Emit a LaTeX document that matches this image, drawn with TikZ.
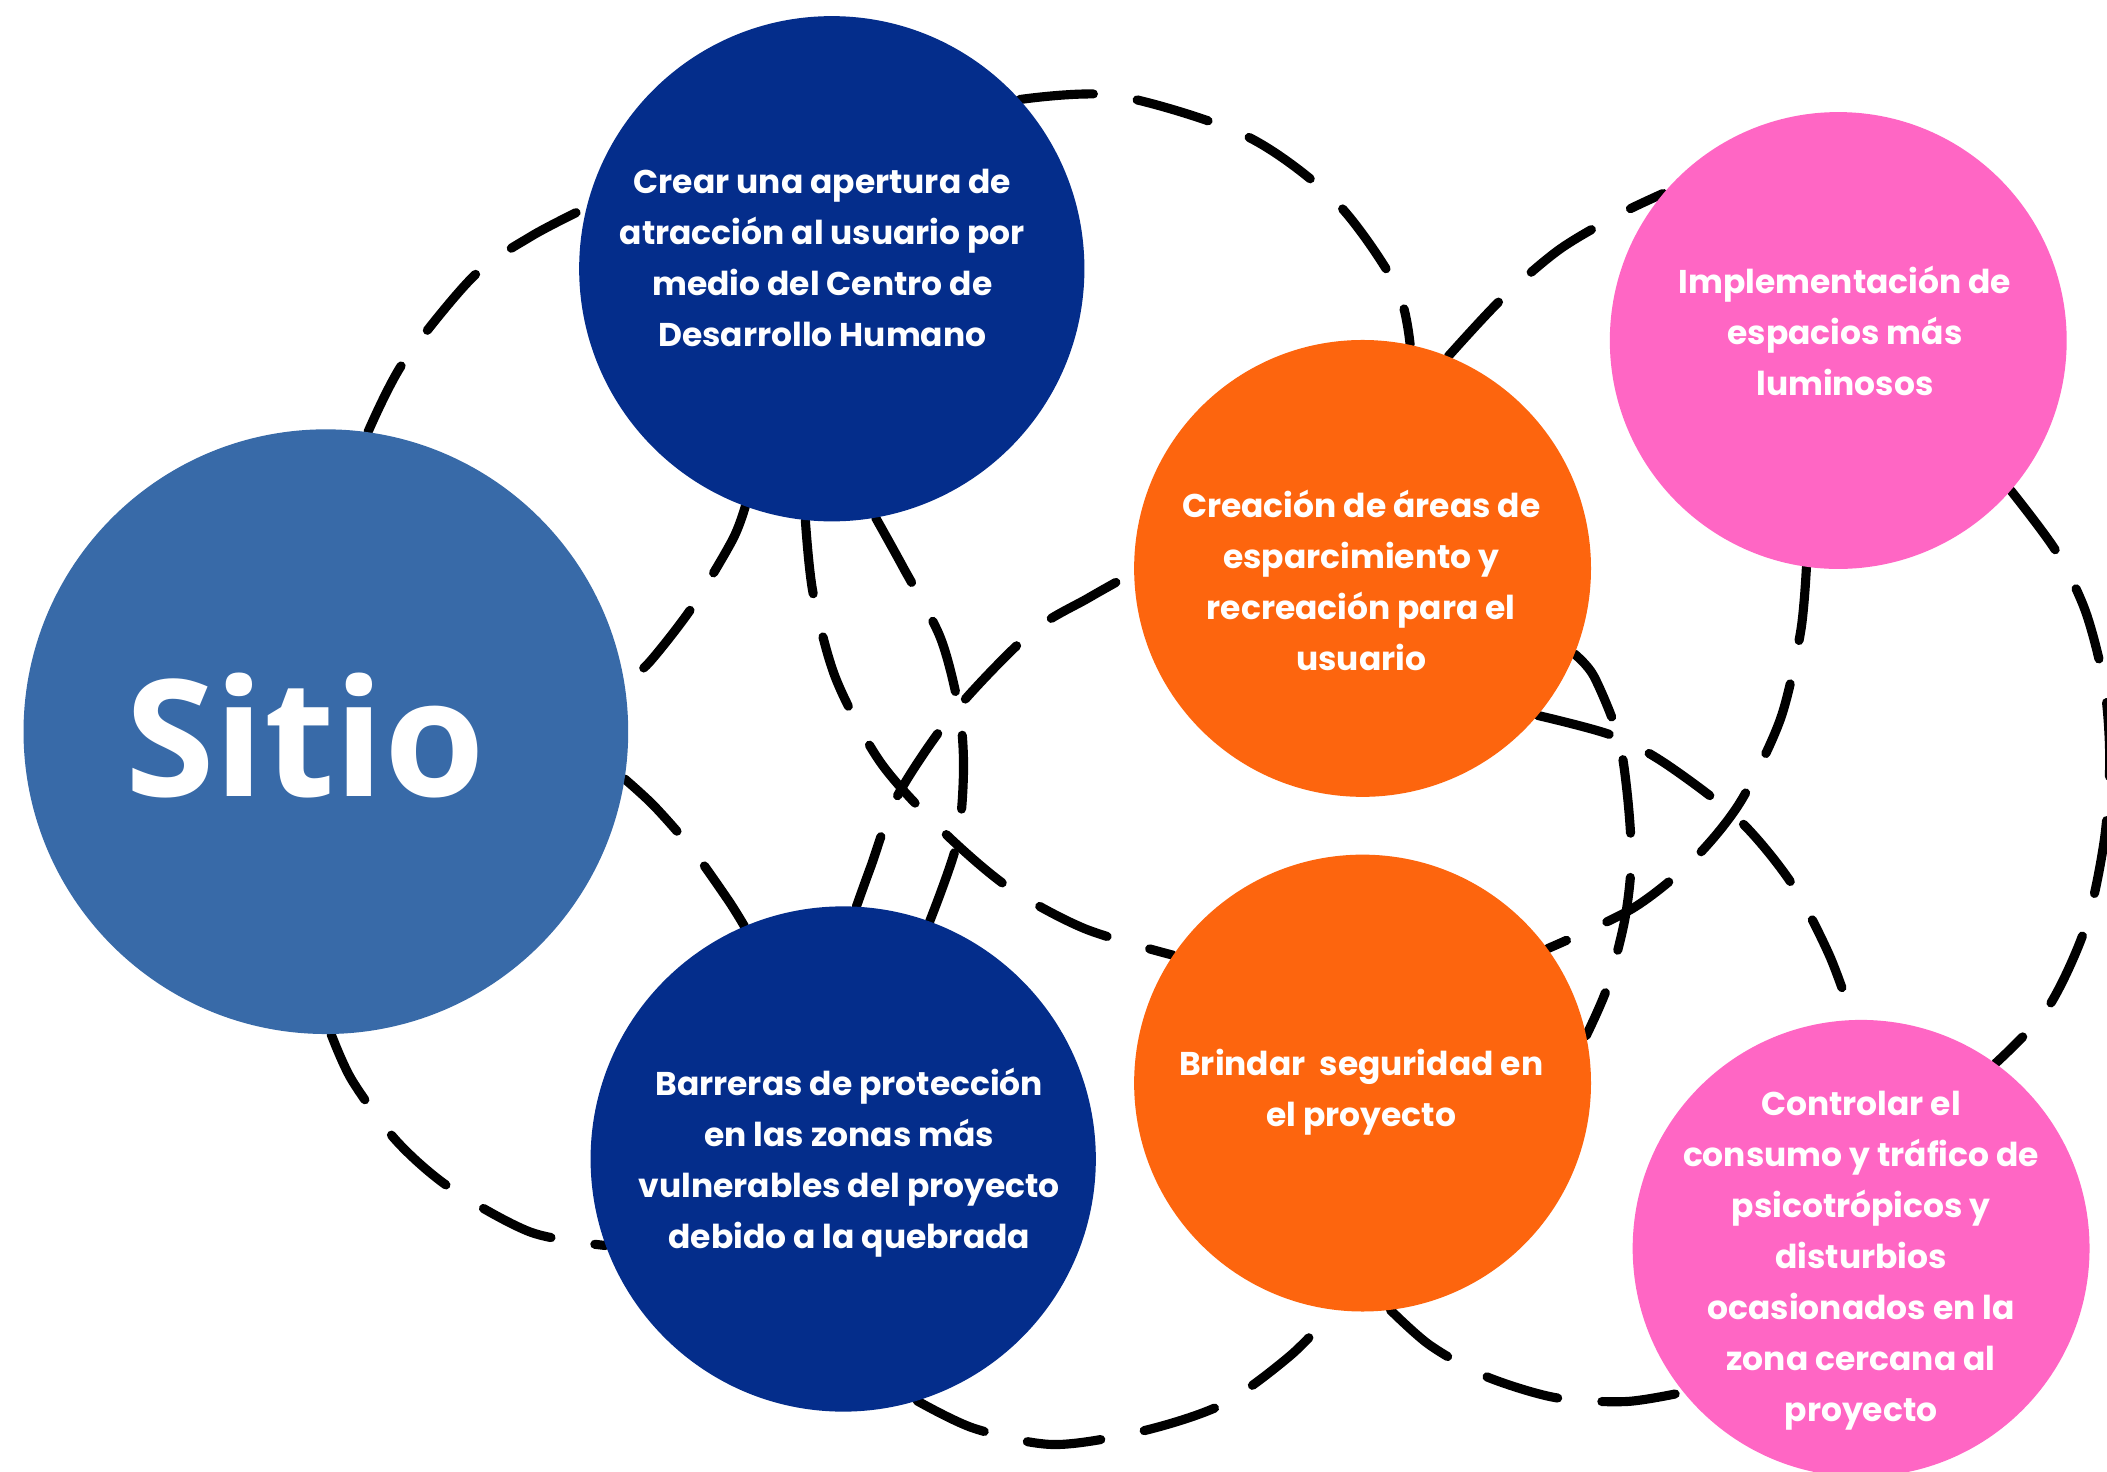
\documentclass[tikz,border=0pt]{standalone}
\usepackage{fontspec}
\newfontfamily\popfont{Poppins}
\newfontfamily\osfont{Open Sans}
\definecolor{sitioblue}{RGB}{56,106,168}
\definecolor{navy}{RGB}{4,45,139}
\definecolor{orng}{RGB}{253,101,14}
\definecolor{pnk}{RGB}{255,102,196}
\pgfdeclarelayer{bg}
\pgfsetlayers{bg,main}
\tikzset{
  disc/.style={circle, inner sep=0pt, draw=none},
  dsh/.style={line width=6.8pt, line cap=round, dash pattern=on 55pt off 33pt, black},
  txt/.style={text=white, align=center, inner sep=0pt, font=\popfont\bfseries\fontsize{24.5}{38}\selectfont},
}
\begin{document}
\begin{tikzpicture}[x=1pt,y=-1pt]
\useasboundingbox (0,0) rectangle (1568,1095);
% solid circles
\node[disc, fill=sitioblue, minimum size=450pt] (sitio) at (242.5,544.5) {};
\node[disc, fill=navy, minimum size=376pt] (tb) at (619,200) {};
\node[disc, fill=navy, minimum size=376pt] (bb) at (627.5,862.5) {};
\node[disc, fill=orng, minimum size=340pt] (ot) at (1014,423) {};
\node[disc, fill=orng, minimum size=340pt] (ob) at (1014,806) {};
\node[disc, fill=pnk, minimum size=340pt] (pt) at (1368,253.4) {};
\node[disc, fill=pnk, minimum size=340pt] (pb) at (1385,929) {};
% texts
\node[text=white, inner sep=0pt, font=\osfont\bfseries\fontsize{121}{124}\selectfont] (tsitio) at (227,547) {Sitio};
\node[txt] (ttb) at (612,192) {Crear una apertura de\\atracción al usuario por\\medio del Centro de\\Desarrollo Humano};
\node[txt] (tot) at (1013,432) {Creación de áreas de\\esparcimiento y\\recreación para el\\usuario};
\node[txt] (tpt) at (1373,246) {Implementación de\\espacios más\\luminosos};
\node[txt] (tbb) at (632,865) {Barreras de protección\\en las zonas más\\vulnerables del proyecto\\debido a la quebrada};
\node[txt] (tob) at (1013,813) {Brindar\ \ seguridad en\\el proyecto};
\node[txt] (tpb) at (1385,938) {Controlar el\\consumo y tráfico de\\psicotrópicos y\\disturbios\\ocasionados en la\\zona cercana al\\proyecto};
% dashed connectors behind the circles
\begin{pgfonlayer}{bg}
\fill[white] (0,0) rectangle (1568,1095);
% Sitio - top navy (upper left)
\draw[dsh] plot[smooth] coordinates {(sitio.82) (300,270) (352,206) (395,176) (tb.166)};
% top navy - upper orange
\draw[dsh] plot[smooth] coordinates {(tb.42) (830,71) (927,101) (994,150) (1039,213) (ot.78)};
% top navy - Sitio
\draw[dsh] plot[smooth] coordinates {(tb.250) (545,402) (515,452) (484,492) (sitio.9)};
% Sitio - bottom navy
\draw[dsh] plot[smooth] coordinates {(sitio.351) (487,600) (515,632) (542,670) (bb.113)};
% Sitio - bottom navy (lower left)
\draw[dsh] plot[smooth] coordinates {(sitio.271) (262,804) (295,849) (335,884) (395,917) (bb.200)};
% top navy - lower orange
\draw[dsh] plot[smooth] coordinates {(tb.264) (605,441) (622,505) (655,567) (700,617) (750,660) (807,691) (ob.146)};
% top navy - bottom navy
\draw[dsh] plot[smooth] coordinates {(tb.280) (672,422) (700,475) (714,530) (717,575) (712,628) (bb.70)};
% bottom navy - upper orange
\draw[dsh] plot[smooth] coordinates {(bb.87) (648,645) (668,592) (710,530) (767,471) (810,445) (ot.181)};
% upper orange - lower pink
\draw[dsh] plot[smooth] coordinates {(ot.320) (1199,547) (1239,568) (1294,610) (1333,657) (1361,710) (pb.92)};
% upper orange - lower orange
\draw[dsh] plot[smooth] coordinates {(ot.338) (1186,503) (1204,547) (1211,591) (1214,640) (1209,685) (1196,735) (ob.12)};
% upper pink - lower orange
\draw[dsh] plot[smooth] coordinates {(pt.262) (1340,470) (1325,535) (1295,597) (1260,640) (1215,676) (ob.36)};
% upper orange - upper pink
\draw[dsh] plot[smooth] coordinates {(ot.68) (1117,223) (1160,186) (1204,160) (pt.140)};
% upper pink - lower pink (right)
\draw[dsh] plot[smooth] coordinates {(pt.319) (1530,410) (1552,455) (1566,510) (1570,565) (1566,625) (1552,690) (1524,750) (pb.54)};
% bottom navy - lower orange
\draw[dsh] plot[smooth] coordinates {(bb.287) (725,1063) (784,1075) (850,1065) (910,1045) (960,1009) (ob.263)};
% lower orange - lower pink
\draw[dsh] plot[smooth] coordinates {(ob.277) (1064,1001) (1105,1024) (1157,1040) (1210,1043) (pb.219)};
\end{pgfonlayer}
\end{tikzpicture}
\end{document}
